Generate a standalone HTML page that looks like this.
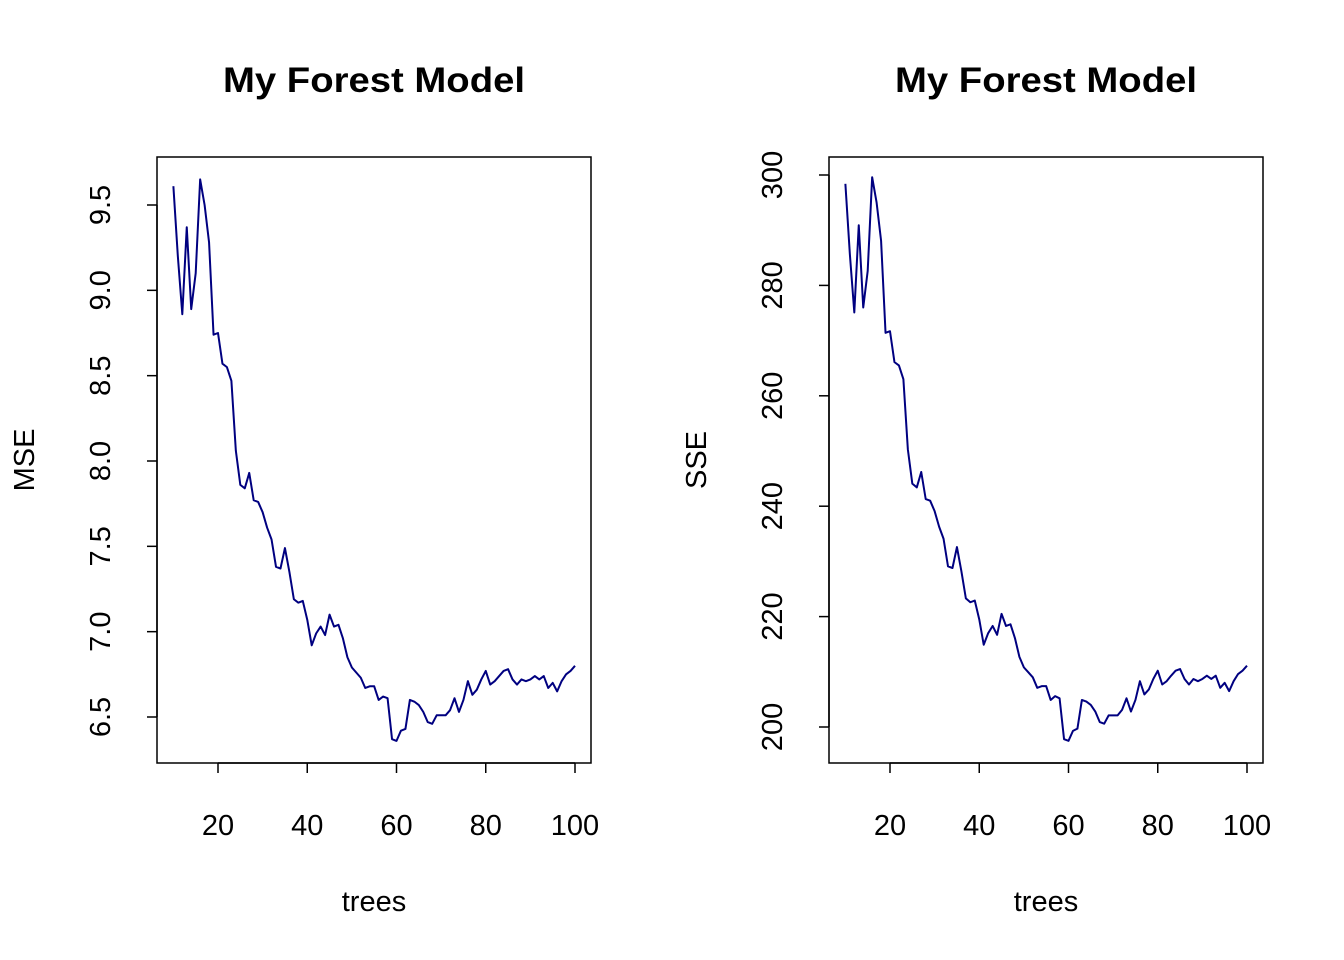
<!DOCTYPE html>
<html><head><meta charset="utf-8"><style>
html,body{margin:0;padding:0;background:#fff}
svg{display:block;font-family:"Liberation Sans",Arial,sans-serif}
</style></head><body>
<svg id="chart" width="1344" height="960" viewBox="0 0 1344 960" xmlns="http://www.w3.org/2000/svg"></svg>
<script>
const trees = [];
for (let t = 10; t <= 100; t++) trees.push(t);
const mseValues = [9.61,9.2,8.86,9.37,8.89,9.1,9.65,9.5,9.28,8.74,8.75,8.57,8.55,8.47,8.06,7.86,7.84,7.93,7.77,7.76,7.70,7.61,7.54,7.38,7.37,7.49,7.35,7.19,7.17,7.18,7.07,6.92,6.99,7.03,6.98,7.10,7.03,7.04,6.96,6.85,6.79,6.76,6.73,6.67,6.68,6.68,6.60,6.62,6.61,6.37,6.36,6.42,6.43,6.60,6.59,6.57,6.53,6.47,6.46,6.51,6.51,6.51,6.54,6.61,6.53,6.60,6.71,6.63,6.66,6.72,6.77,6.69,6.71,6.74,6.77,6.78,6.72,6.69,6.72,6.71,6.72,6.74,6.72,6.74,6.67,6.70,6.65,6.71,6.75,6.77,6.80];
const sseValues = [298.4,285.7,275.1,290.9,276.0,282.6,299.6,295.0,288.1,271.4,271.7,266.1,265.5,263.0,250.3,244.1,243.4,246.2,241.3,241.0,239.1,236.3,234.1,229.1,228.8,232.6,228.2,223.3,222.6,222.9,219.5,214.9,217.0,218.3,216.7,220.5,218.3,218.6,216.1,212.7,210.8,209.9,209.0,207.1,207.4,207.4,204.9,205.6,205.2,197.8,197.5,199.3,199.7,204.9,204.6,204.0,202.8,200.9,200.6,202.1,202.1,202.1,203.1,205.2,202.8,204.9,208.3,205.9,206.8,208.7,210.2,207.7,208.3,209.3,210.2,210.5,208.7,207.7,208.7,208.3,208.7,209.3,208.7,209.3,207.1,208.0,206.5,208.3,209.6,210.2,211.1];
const xTicks = [20,40,60,80,100];
const mseTicks = [6.5,7.0,7.5,8.0,8.5,9.0,9.5];
const sseTicks = [200,220,240,260,280,300];

const NS = "http://www.w3.org/2000/svg";
const svg = document.getElementById("chart");
function mk(tag, attrs, parent) {
  const e = document.createElementNS(NS, tag);
  for (const k in attrs) e.setAttribute(k, attrs[k]);
  (parent || svg).appendChild(e);
  return e;
}

function panel(opt) {
  const g = mk("g", {});
  
  
  const L = opt.left, R = opt.left + 434, T = 157, B = 763;
  const xs = v => opt.x20 + (v - 20) * (357 / 80);
  const ys = v => opt.yA + (v - opt.vA) * (opt.yB - opt.yA) / (opt.vB - opt.vA);

  const title = mk("text", {x: (L + R) / 2, y: 92, "text-anchor": "middle", "font-size": 35, "font-weight": "bold", fill: "#000", textLength: 302, lengthAdjust: "spacingAndGlyphs"}, g);
  title.textContent = "My Forest Model";
  
  

  const box = mk("rect", {x: L, y: T, width: R - L, height: B - T, fill: "none", stroke: "#000", "stroke-width": 1.5}, g);
  
  

  const xa = mk("g", {}, g);
  
  
  mk("line", {x1: xs(xTicks[0]), x2: xs(xTicks[xTicks.length - 1]), y1: B, y2: B, stroke: "#000", "stroke-width": 1.5}, xa);
  xTicks.forEach(v => {
    mk("line", {x1: xs(v), x2: xs(v), y1: B, y2: B + 10, stroke: "#000", "stroke-width": 1.5}, xa);
    const t = mk("text", {x: xs(v), y: 835, "text-anchor": "middle", "font-size": 29}, xa);
    t.textContent = v;
    
    
  });

  const ya = mk("g", {}, g);
  
  
  const tk = opt.ticks;
  mk("line", {x1: L, x2: L, y1: ys(tk[0]), y2: ys(tk[tk.length - 1]), stroke: "#000", "stroke-width": 1.5}, ya);
  tk.forEach(v => {
    mk("line", {x1: L, x2: L - 10, y1: ys(v), y2: ys(v), stroke: "#000", "stroke-width": 1.5}, ya);
    const t = mk("text", {x: 0, y: 0, "text-anchor": "middle", "font-size": 29, transform: `translate(${L - 47},${ys(v)}) rotate(-90)`}, ya);
    t.textContent = opt.fmt(v);
    
    
  });

  const xl = mk("text", {x: (L + R) / 2, y: 911, "text-anchor": "middle", "font-size": 29}, g);
  xl.textContent = "trees";
  
  
  const yl = mk("text", {x: 0, y: 0, "text-anchor": "middle", "font-size": 29, transform: `translate(${L - 123},${(T + B) / 2}) rotate(-90)`}, g);
  yl.textContent = opt.ylabel;
  
  

  const d = opt.values.map((v, i) => (i ? "L" : "M") + xs(trees[i]).toFixed(2) + "," + ys(v).toFixed(2)).join(" ");
  const line = mk("path", {d: d, fill: "none", stroke: "#000080", "stroke-width": 2, "stroke-linejoin": "round"}, g);
  
  
}

panel({name: "mse-panel", left: 157, x20: 218, yA: 717, vA: 6.5, yB: 205, vB: 9.5, ticks: mseTicks, values: mseValues, ylabel: "MSE", fmt: v => v.toFixed(1)});
panel({name: "sse-panel", left: 829, x20: 890, yA: 727, vA: 200, yB: 175, vB: 300, ticks: sseTicks, values: sseValues, ylabel: "SSE", fmt: v => String(v)});
</script>
</body></html>
